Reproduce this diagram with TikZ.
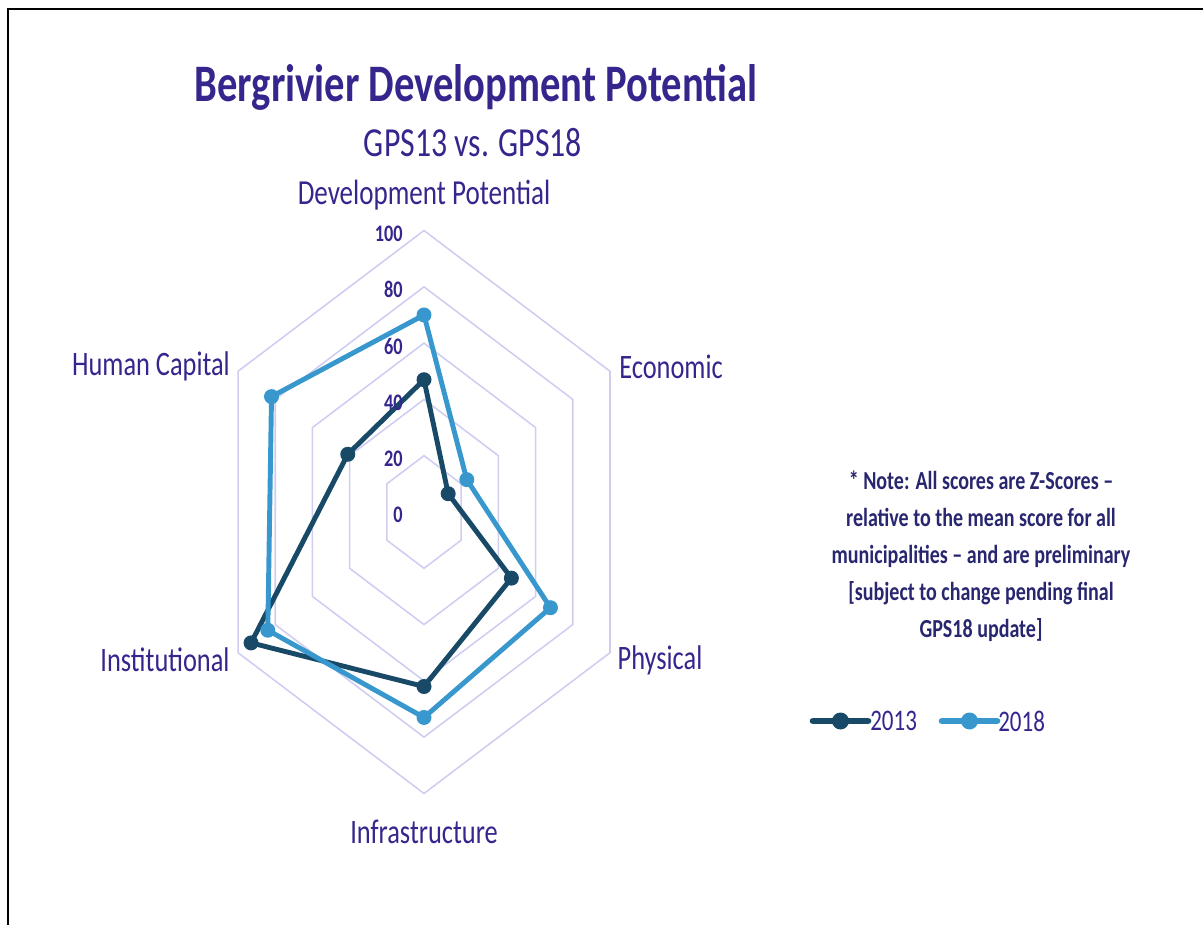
\documentclass[tikz,border=0pt]{standalone}
\usepackage{fontspec}
\setmainfont{Carlito}
\usetikzlibrary{calc}
\definecolor{titlecol}{RGB}{52,38,140}
\definecolor{notecol}{RGB}{40,38,110}
\definecolor{gridcol}{RGB}{208,206,240}
\definecolor{darkser}{RGB}{24,74,104}
\definecolor{lightser}{RGB}{56,152,206}
\tikzset{
  lbl/.style={text=titlecol, xscale=0.77, inner sep=0pt},
  axislbl/.style={lbl, font=\fontsize{19.5}{22}\selectfont},
  numlbl/.style={lbl, font=\fontsize{13.5}{15}\selectfont\bfseries, anchor=east},
  ring/.style={gridcol, line width=0.9pt},
  ser13/.style={darkser, line width=2.8pt, line join=round},
  ser18/.style={lightser, line width=2.8pt, line join=round}
}
\begin{document}
\begin{tikzpicture}[x=0.02cm, y=-0.02cm]
\useasboundingbox (0,0) rectangle (1203,925);
% frame
\draw[line width=1.5pt] (8,925) -- (8,9) -- (1203,9);

% titles
\node[lbl, font=\fontsize{30}{34}\selectfont\bfseries] (title) at (476,87) {Bergrivier Development Potential};
\node[lbl, font=\fontsize{23.5}{26}\selectfont] (subtitle) at (473,143) {GPS13 vs. GPS18};

% radar
\begin{scope}[shift={(424,512)}, x=0.04296cm, y=0.0563cm]
% rings
\foreach \r in {20,40,...,100}
  \draw[ring] (90:\r) -- (30:\r) -- (-30:\r) -- (-90:\r) -- (210:\r) -- (150:\r) -- cycle;
% 2013
\foreach \ang/\val [count=\i] in {90/47,30/13,-30/47,-90/62,210/93,150/41}
  \coordinate (a\i) at (\ang:\val);
\draw[ser13] (a1) -- (a2) -- (a3) -- (a4) -- (a5) -- (a6) -- cycle;
\foreach \i in {1,...,6}
  \fill[darkser] (a\i) circle (0.15cm);
% 2018
\foreach \ang/\val [count=\i] in {90/70,30/23,-30/68,-90/73,210/84,150/82}
  \coordinate (b\i) at (\ang:\val);
\draw[ser18] (b1) -- (b2) -- (b3) -- (b4) -- (b5) -- (b6) -- cycle;
\foreach \i in {1,...,6}
  \fill[lightser] (b\i) circle (0.15cm);
\end{scope}

% scale labels
\foreach \v in {0,20,...,100}
  \node[numlbl] (n\v) at (403,{515-2.815*\v}) {\v};

% axis labels
\node[axislbl, font=\fontsize{20}{22}\selectfont] (devlbl) at (424,195) {Development Potential};
\node[axislbl] (econlbl) at (671,367) {Economic};
\node[axislbl] (physlbl) at (660,660) {Physical};
\node[axislbl] (infralbl) at (424,832) {Infrastructure};
\node[axislbl] (instlbl) at (165,660) {Institutional};
\node[axislbl] (humanlbl) at (151,366) {Human Capital};

% note
\node[lbl, text=notecol, align=center, font=\fontsize{14.8}{21}\selectfont\bfseries] (note) at (981,556)
  {* Note: All scores are Z-Scores --\\relative to the mean score for all\\municipalities -- and are preliminary\\{[}subject to change pending final\\GPS18 update{]}};

% legend
\coordinate (l13a) at (813,721);
\coordinate (l13b) at (868,721);
\coordinate (l18a) at (942,721);
\coordinate (l18b) at (997,721);
\draw[darkser, line width=3.8pt, line cap=round] (l13a) -- (l13b);
\fill[darkser] ($(l13a)!0.5!(l13b)$) circle (0.17cm);
\draw[lightser, line width=3.8pt, line cap=round] (l18a) -- (l18b);
\fill[lightser] ($(l18a)!0.5!(l18b)$) circle (0.17cm);
\node[lbl, anchor=west, font=\fontsize{17}{19}\selectfont] (leg13) at (870,721) {2013};
\node[lbl, anchor=west, font=\fontsize{17}{19}\selectfont] (leg18) at (998,721) {2018};
\end{tikzpicture}
\end{document}
